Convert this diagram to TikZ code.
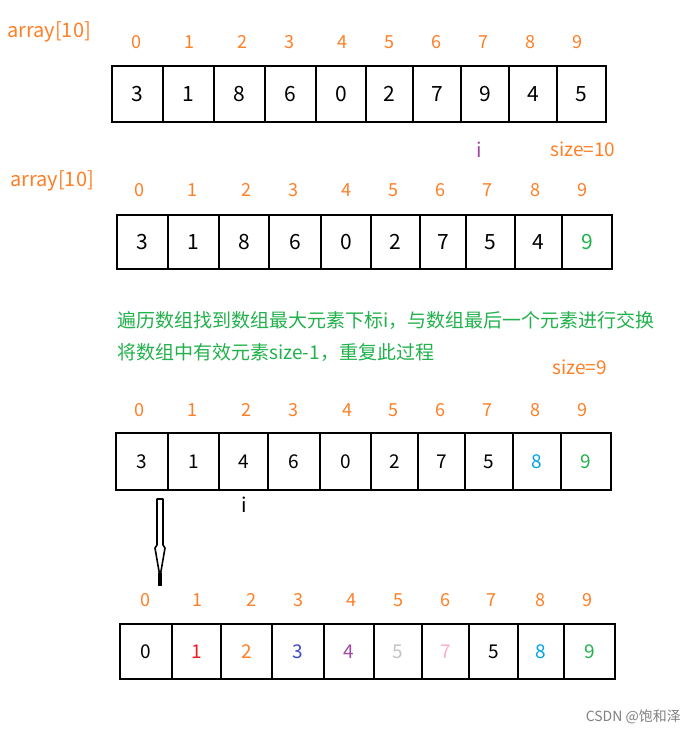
\documentclass[tikz,border=0pt]{standalone}
\usepackage{fontspec}
\setmainfont{Noto Sans CJK SC}

\definecolor{idxorange}{HTML}{FF7F27}
\definecolor{notegreen}{HTML}{22B14C}
\definecolor{ipurple}{HTML}{A349A4}
\definecolor{vred}{HTML}{ED1C24}
\definecolor{vblue}{HTML}{3F48CC}
\definecolor{vgray}{HTML}{C3C3C3}
\definecolor{vpink}{HTML}{FFAEC9}
\definecolor{vsky}{HTML}{00A2E8}

\begin{document}
\begin{tikzpicture}[
    x=1pt, y=-1pt,
    cell/.style={draw, line width=2.8pt, inner sep=0pt, font=\fontsize{21}{21}\selectfont},
    smallcell/.style={cell, font=\fontsize{19}{19}\selectfont},
    idx/.style={text=idxorange, inner sep=0pt, font=\fontsize{18}{18}\selectfont},
    label/.style={anchor=west, inner sep=0pt, font=\fontsize{20}{20}\selectfont},
    note/.style={anchor=west, inner sep=0pt, text=notegreen, font=\fontsize{19}{19}\selectfont}
]
\fill[white] (0,0) rectangle (697,733);
\useasboundingbox (0,0) rectangle (697,733);

% Row 1
\node[label, text=idxorange] (name1) at (7,32) {array[10]};
\foreach \n/\l/\r/\v/\c/\ix in {0/112/163/3/black/136, 1/163/214/1/black/189,
    2/214/265/8/black/242, 3/265/316/6/black/289, 4/316/366/0/black/342,
    5/366/413/2/black/389, 6/413/461/7/black/436, 7/461/509/9/black/483,
    8/509/557/4/black/530, 9/557/606/5/black/577}
  {\node[cell, text=\c, minimum width={(\r-\l)*1pt}, minimum height=56pt] (ra\n) at ({(\l+\r)/2},94) {\v};
   \node[idx] (ia\n) at (\ix,42) {\n};}
\node[label, text=ipurple] (maxa) at (476,150) {i};
\node[label, text=idxorange, font=\fontsize{19}{19}\selectfont] (sizea) at (550,149) {size=10};

% Row 2
\node[label, text=idxorange] (name2) at (10,181) {array[10]};
\foreach \n/\l/\r/\v/\c/\ix in {0/117/168/3/black/139, 1/168/219/1/black/192,
    2/219/269/8/black/246, 3/269/321/6/black/293, 4/321/371/0/black/346,
    5/371/420/2/black/393, 6/420/466/7/black/440, 7/466/515/5/black/487,
    8/515/562/4/black/535, 9/562/612/9/notegreen/582}
  {\node[cell, text=\c, minimum width={(\r-\l)*1pt}, minimum height=54pt] (rb\n) at ({(\l+\r)/2},242) {\v};
   \node[idx] (ib\n) at (\ix,190) {\n};}

% Explanation
\node[note] (step1) at (117,320) {遍历数组找到数组最大元素下标i，与数组最后一个元素进行交换};
\node[note] (step2) at (117,353) {将数组中有效元素size-1，重复此过程};
\node[label, text=idxorange, font=\fontsize{19}{19}\selectfont] (sizeb) at (552,367) {size=9};

% Row 3
\foreach \n/\l/\r/\v/\c/\ix in {0/116/168/3/black/139, 1/168/219/1/black/192,
    2/219/268/4/black/246, 3/268/320/6/black/293, 4/320/371/0/black/347,
    5/371/418/2/black/393, 6/418/465/7/black/440, 7/465/513/5/black/487,
    8/513/561/8/vsky/535, 9/561/611/9/notegreen/582}
  {\node[smallcell, text=\c, minimum width={(\r-\l)*1pt}, minimum height=57pt] (rc\n) at ({(\l+\r)/2},461.5) {\v};
   \node[idx] (ic\n) at (\ix,410) {\n};}
\node[label] (maxc) at (241,505) {i};

% Arrow down to the sorted row
\coordinate (arrtop) at (160,499);
\begin{scope}[shift={(arrtop)}]
  \draw[line width=1.6pt, line join=round] (-3,0) -- (-3,46) -- (-5,49) -- (0,78)
      -- (5,49) -- (3,46) -- (3,0) -- cycle;
  \draw[line width=3.6pt] (0,74) -- (0,87);
\end{scope}

% Row 4
\foreach \n/\l/\r/\v/\c/\ix in {0/120/172/0/black/145, 1/172/221/1/vred/197,
    2/221/272/2/idxorange/251, 3/272/324/3/vblue/298, 4/324/374/4/ipurple/351,
    5/374/422/5/vgray/398, 6/422/469/7/vpink/445, 7/469/518/5/black/491,
    8/518/564/8/vsky/540, 9/564/615/9/notegreen/587}
  {\node[smallcell, text=\c, minimum width={(\r-\l)*1pt}, minimum height=55pt] (rd\n) at ({(\l+\r)/2},651.5) {\v};
   \node[idx] (id\n) at (\ix,600) {\n};}

\node[anchor=east, inner sep=0pt, text=gray, font=\fontsize{14}{14}\selectfont] (mark) at (681,717) {CSDN @饱和泽};

\end{tikzpicture}
\end{document}
